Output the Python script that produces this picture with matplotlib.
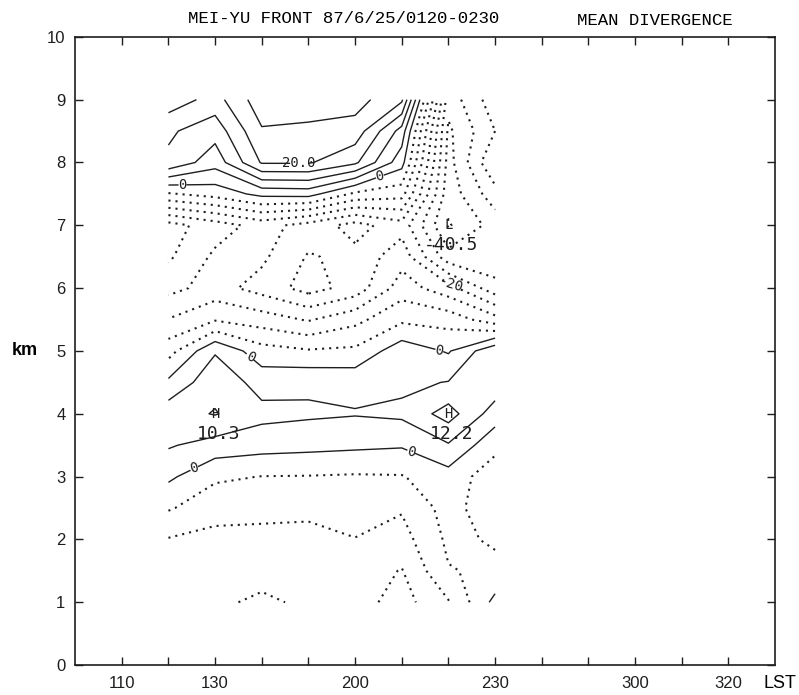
import numpy as np
import matplotlib
matplotlib.use("Agg")
import matplotlib.pyplot as plt

# analysis grid: times (LST, hhmm) and heights (km)
times_lst = [120, 130, 140, 150, 200, 210, 220, 230]
heights_km = [1.0, 1.5, 2.0, 2.5, 3.0, 3.5, 4.0, 4.5, 5.0,
              5.5, 6.0, 6.5, 7.0, 7.5, 8.0, 8.5, 9.0]

# mean divergence, one row per height (bottom -> top), one column per time
div_rows = [
    [-13.0, -14.0, -16.0, -14.0, -13.0, -17.0, -10.4, 1.5],     # 1.0
    [-12.5, -13.0, -13.0, -13.5, -12.0, -15.3, -5.3, -4.0],     # 1.5
    [-10.3, -11.5, -11.5, -12.0, -10.1, -12.0, -4.0, -5.5],     # 2.0
    [-4.5, -8.0, -8.5, -8.5, -8.5, -9.5, -3.0, -8.5],           # 2.5
    [1.0, -4.2, -5.1, -5.2, -5.5, -5.3, -2.0, -8.0],            # 3.0
    [5.5, 3.0, 2.0, 1.5, 1.0, 0.5, 4.5, -3.5],                  # 3.5
    [8.0, 10.3, 6.5, 5.8, 5.3, 6.0, 12.2, 2.5],                 # 4.0
    [1.0, 8.5, 3.0, 4.0, 3.5, 4.0, 5.2, 8.5],                   # 4.5
    [-7.0, 4.5, -3.0, -4.5, -4.0, 3.0, -0.5, 9.0],              # 5.0
    [-14.8, -10.5, -12.5, -15.5, -11.5, -6.0, -7.0, -13.0],     # 5.5
    [-21.5, -18.0, -22.0, -27.0, -23.0, -12.5, -18.0, -28.0],   # 6.0
    [-25.8, -19.0, -19.0, -25.5, -23.5, -17.0, -33.0, -34.0],   # 6.5
    [-27.0, -22.5, -18.0, -22.0, -27.0, -22.0, -40.5, -33.0],   # 7.0
    [-5.5, -3.0, 1.5, 2.0, -6.0, -8.0, -38.0, -27.0],           # 7.5
    [14.0, 7.0, 20.5, 20.5, 16.0, 2.0, -37.0, -20.0],           # 8.0
    [15.8, 12.0, 24.5, 24.0, 23.0, 8.0, -36.0, -25.0],          # 8.5
    [23.0, 18.0, 28.0, 27.5, 27.0, 21.0, -33.0, -22.0],         # 9.0
]

# x axis ticks (LST)
tick_lst = [110, 130, 200, 230, 300, 320]


def to_min(hhmm):
    return (hhmm // 100) * 60 + hhmm % 100


t = np.array([to_min(v) for v in times_lst], dtype=float)
z = np.array(heights_km)
div = np.array(div_rows)
T, Z = np.meshgrid(t, z)

plt.rcParams['lines.dotted_pattern'] = [1.0, 2.4]
ink = '#1e1e1e'

fig = plt.figure(figsize=(7.99, 6.95), dpi=100)
ax = fig.add_axes([0.094, 0.043, 0.876, 0.904])

# negative dotted, zero/positive solid; labelled levels drawn on their own
neg_lev = [v for v in range(-40, 0, 5) if v != -20]
pos_lev = [5, 10, 15, 25]
ax.contour(T, Z, div, levels=neg_lev, colors=ink, linewidths=1.5,
           linestyles='dotted')
ax.contour(T, Z, div, levels=pos_lev, colors=ink, linewidths=1.0,
           linestyles='solid')
neg20 = ax.contour(T, Z, div, levels=[-20], colors=ink, linewidths=1.5,
                   linestyles='dotted')
zero = ax.contour(T, Z, div, levels=[0], colors=ink, linewidths=1.0,
                  linestyles='solid')
twenty = ax.contour(T, Z, div, levels=[20], colors=ink, linewidths=1.0,
                    linestyles='solid')

zero.clabel(fmt={0: '0'}, inline=True, inline_spacing=4, colors=ink,
            fontsize=10,
            manual=[(83, 7.62), (125.5, 7.66), (97.5, 4.9), (138, 4.96),
                    (85.5, 3.15), (132, 3.38)])
twenty.clabel(fmt={20: '20.0'}, inline=True, inline_spacing=4, colors=ink,
              fontsize=10, manual=[(108, 7.98)])
neg20.clabel(fmt={-20: '-20'}, inline=True, inline_spacing=4, colors=ink,
             fontsize=10, manual=[(140.5, 6.05)])
for cs in (zero, twenty, neg20):
    for txt in cs.labelTexts:
        txt.set_fontfamily('DejaVu Sans Mono')

# highs and lows
low_zone = z < 5.5
extremes = []
for cols in (slice(0, 3), slice(5, 8)):
    sub = np.where(low_zone[:, None], div[:, cols], -np.inf)
    i, j = np.unravel_index(np.argmax(sub), sub.shape)
    j += cols.start
    extremes.append(('H', t[j], z[i], div[i, j]))
i, j = np.unravel_index(np.argmin(div), div.shape)
extremes.append(('L', t[j], z[i], div[i, j]))

for letter, tx, zy, val in extremes:
    ax.text(tx, zy, letter, ha='center', va='center', fontsize=10,
            fontfamily='DejaVu Sans Mono', color=ink)
    ax.annotate(f'{val:.1f}', xy=(tx, zy), xytext=(3, -20),
                textcoords='offset pixels', ha='center', va='center',
                fontsize=13, fontfamily='DejaVu Sans Mono', color=ink)

ax.set_xlim(60, 210)
ax.set_ylim(0, 10)
xt = np.arange(70, 201, 10)
ax.set_xticks(xt)
labels = {to_min(v): f'{v}' for v in tick_lst}
ax.set_xticklabels([labels.get(v, '') for v in xt])
ax.set_yticks(np.arange(0, 11, 1))
ax.tick_params(direction='in', length=6, width=1, top=True, right=True,
               labelsize=12, colors=ink)
ax.tick_params(axis='x', pad=8)
ax.tick_params(axis='y', pad=7)
for lab in ax.get_xticklabels() + ax.get_yticklabels():
    lab.set_fontfamily('Liberation Sans')
for sp in ax.spines.values():
    sp.set_linewidth(1.2)
    sp.set_color(ink)

fig.text(0.031, 0.496, 'km', fontsize=13, fontweight='bold',
         fontfamily='Liberation Sans', ha='center', va='center')
fig.text(0.997, 0.017, 'LST', fontsize=13, fontfamily='Liberation Sans',
         ha='right', va='center')
fig.text(0.43, 0.974, 'MEI-YU FRONT 87/6/25/0120-0230', fontsize=12.5,
         fontfamily='Liberation Mono', ha='center', va='center')
fig.text(0.82, 0.971, 'MEAN DIVERGENCE', fontsize=12.5,
         fontfamily='Liberation Mono', ha='center', va='center')

fig.savefig('out.png', dpi=100)
